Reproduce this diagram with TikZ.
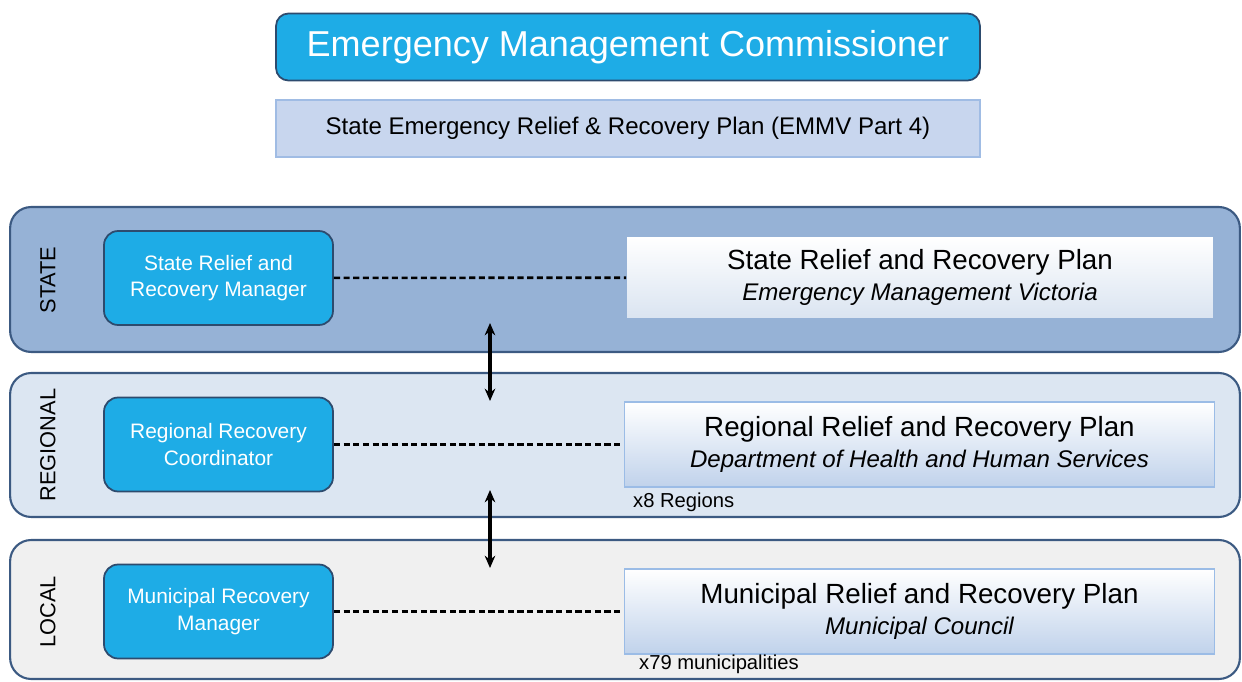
\documentclass[tikz,border=0pt]{standalone}
\usepackage{fontspec}
\setmainfont{Liberation Sans}
\usetikzlibrary{positioning, arrows.meta}

\definecolor{emcblue}{RGB}{30,172,230}
\definecolor{roleedge}{RGB}{45,75,110}
\definecolor{topplan}{RGB}{200,214,238}
\definecolor{topedge}{RGB}{160,188,228}
\definecolor{stateband}{RGB}{150,178,214}
\definecolor{regionband}{RGB}{220,230,242}
\definecolor{localband}{RGB}{240,240,240}
\definecolor{bandedge}{RGB}{60,90,130}
\definecolor{planblue}{RGB}{192,210,235}
\definecolor{planedge}{RGB}{155,188,230}

\newcommand{\plansubfont}{\fontsize{13.7}{16}\selectfont\itshape}

\tikzset{
  band/.style={draw=bandedge, line width=1.2pt, rounded corners=12pt, inner sep=0pt, minimum width=24.6cm},
  rolebox/.style={fill=emcblue, draw=roleedge, line width=1pt, rounded corners=8pt, text=white, align=center,
                  font=\fontsize{11.9}{15}\selectfont, minimum width=4.58cm, minimum height=1.88cm},
  planbox/.style={top color=white, bottom color=planblue, draw=planedge, line width=1pt, align=center,
                  minimum width=11.8cm, minimum height=1.7cm, font=\fontsize{15.8}{19}\selectfont},
  tier/.style={rotate=90, font=\fontsize{12.4}{14}\selectfont},
  note/.style={anchor=west, font=\fontsize{11.5}{13}\selectfont},
  link/.style={dash pattern=on 3.5pt off 2pt, line width=1.5pt},
  swap/.style={{Stealth[length=7pt,width=6pt]}-{Stealth[length=7pt,width=6pt]}, line width=1.8pt}
}

\begin{document}
\begin{tikzpicture}[x=0.02cm, y=-0.02cm]
  \useasboundingbox (0,0) rectangle (1242,682);

  % commissioner and state plan
  \node[fill=emcblue, draw=roleedge, line width=1pt, rounded corners=7pt, minimum width=14.08cm, minimum height=1.34cm,
        text=white, font=\fontsize{20.5}{24}\selectfont] (emc) at (628,47) {Emergency Management Commissioner};
  \node[fill=topplan, draw=topedge, line width=1pt, minimum width=14.08cm, minimum height=1.14cm,
        font=\fontsize{13.7}{15}\selectfont] (emmv) at (628,128.5) {State Emergency Relief \& Recovery Plan (EMMV Part 4)};

  % tiers
  \node[band, fill=stateband, minimum height=2.9cm] (state) at (625,279.5) {};
  \node[band, fill=regionband, minimum height=2.88cm] (regional) at (625,445) {};
  \node[band, fill=localband, minimum height=2.78cm] (local) at (625,609.5) {};

  \node[tier] (statelbl) at (48,280) {STATE};
  \node[tier] (regionallbl) at (48,445) {REGIONAL};
  \node[tier] (locallbl) at (48,612) {LOCAL};

  % managers
  \node[rolebox] (srm) at (218.5,278) {State Relief and\\Recovery Manager};
  \node[rolebox] (rrc) at (218.5,444.5) {Regional Recovery\\Coordinator};
  \node[rolebox] (mrm) at (218.5,611.5) {Municipal Recovery\\Manager};

  % plans
  \node[planbox, draw=none, bottom color=stateband!35, minimum width=11.72cm, minimum height=1.62cm] (splan) at (920,277.5)
        {State Relief and Recovery Plan\\[-1pt]{\plansubfont Emergency Management Victoria}};
  \node[planbox] (rplan) at (919.5,444.5)
        {Regional Relief and Recovery Plan\\[-1pt]{\plansubfont Department of Health and Human Services}};
  \node[planbox] (mplan) at (919.5,611.5)
        {Municipal Relief and Recovery Plan\\[-1pt]{\plansubfont Municipal Council}};

  \node[note] (xregions) at (627,502) {x8 Regions};
  \node[note] (xmunis) at (633,664) {x79 municipalities};

  \draw[link] (srm) -- (splan);
  \draw[link] (rrc) -- (rplan);
  \draw[link] (mrm) -- (mplan);

  \coordinate (s1) at (490,323);
  \coordinate (r1) at (490,401);
  \coordinate (r2) at (490,490);
  \coordinate (m1) at (490,568);
  \draw[swap] (s1) -- (r1);
  \draw[swap] (r2) -- (m1);
\end{tikzpicture}
\end{document}
